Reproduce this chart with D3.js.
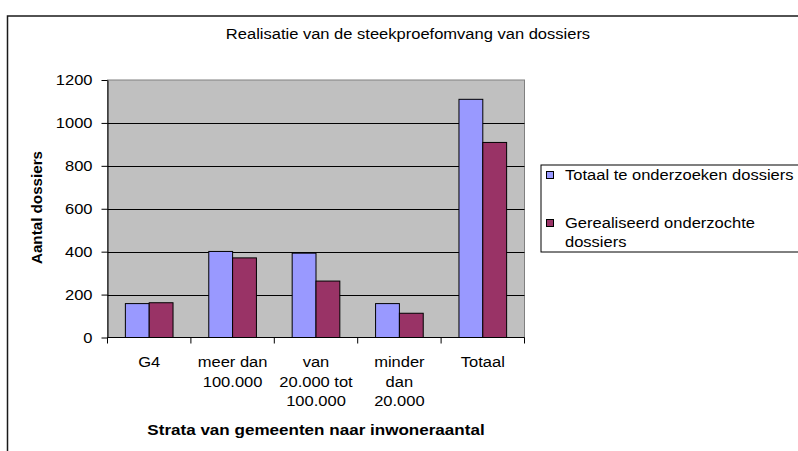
<!DOCTYPE html>
<html>
<head>
<meta charset="utf-8">
<script src="https://cdn.jsdelivr.net/npm/d3@7"></script>
<style>
  html, body { margin: 0; padding: 0; background: #fff; }
  svg { display: block; font-family: "Liberation Sans", Arial, sans-serif; }
</style>
</head>
<body>
<svg id="chart" width="798" height="451"></svg>
<script>
// ---- data ----
const categories = ["G4", "meer dan\n100.000", "van\n20.000 tot\n100.000", "minder\ndan\n20.000", "Totaal"];
const seriesNames = ["Totaal te onderzoeken dossiers", "Gerealiseerd onderzochte\ndossiers"];
const totaalValues = [158, 401, 393, 158, 1110];
const gerealiseerdValues = [162, 371, 263, 113, 909];
const seriesColors = ["#9999FF", "#993366"];
const yTicks = [0, 200, 400, 600, 800, 1000, 1200];
const chartTitle = "Realisatie van de steekproefomvang van dossiers";
const xTitle = "Strata van gemeenten naar inwoneraantal";
const yTitle = "Aantal dossiers";

const seriesValues = [totaalValues, gerealiseerdValues];

// ---- layout ----
const svg = d3.select("#chart");
const plot = { left: 107.5, right: 524.5, top: 80, bottom: 337.5 };
const SX = 1.065;      // slight horizontal text stretch of the original rendering
const FS = 15.5;

function stretch(sel, k) {
  sel.each(function () {
    const w = this.getComputedTextLength();
    this.setAttribute("textLength", w * k);
    this.setAttribute("lengthAdjust", "spacingAndGlyphs");
  });
}

// outer chart frame
svg.append("rect")
  .attr("x", 7.5).attr("y", 16)
  .attr("width", 820).attr("height", 470)
  .attr("fill", "#fff").attr("stroke", "#1a1a1a").attr("stroke-width", 1.5);

// scales
const x = d3.scaleBand().domain(d3.range(categories.length))
  .range([plot.left, plot.right]).paddingInner(0).paddingOuter(0);
const xs = d3.scaleBand().domain(d3.range(seriesNames.length))
  .range([0, x.bandwidth()]).paddingInner(0).paddingOuter(0.75);
const y = d3.scaleLinear().domain([0, 1200]).range([plot.bottom, plot.top]);

// plot background
svg.append("rect")
  .attr("x", plot.left).attr("y", plot.top)
  .attr("width", plot.right - plot.left).attr("height", plot.bottom - plot.top)
  .attr("fill", "#C0C0C0").attr("stroke", "#808080").attr("stroke-width", 1);

// gridlines
svg.append("g").selectAll("line")
  .data(yTicks.filter(t => t > 0 && t < 1200))
  .join("line")
  .attr("x1", plot.left).attr("x2", plot.right)
  .attr("y1", d => Math.round(y(d)) + 0.5).attr("y2", d => Math.round(y(d)) + 0.5)
  .attr("stroke", "#000").attr("stroke-width", 1);

// bars
const groups = svg.append("g").selectAll("g")
  .data(categories.map((c, i) => i))
  .join("g")
  .attr("transform", i => `translate(${x(i)},0)`);
groups.selectAll("rect")
  .data(i => seriesValues.map((vals, s) => ({ s, v: vals[i] })))
  .join("rect")
  .attr("x", d => xs(d.s))
  .attr("width", xs.bandwidth())
  .attr("y", d => y(d.v))
  .attr("height", d => y(0) - y(d.v))
  .attr("fill", d => seriesColors[d.s])
  .attr("stroke", "#000").attr("stroke-width", 1);

// y axis
const yAxis = d3.axisLeft(y).tickValues(yTicks).tickFormat(d3.format("d"))
  .tickSize(6).tickPadding(9).tickSizeOuter(0);
const gy = svg.append("g").attr("transform", `translate(${plot.left},0)`).call(yAxis);
gy.select(".domain").attr("stroke", "#000");
gy.selectAll(".tick line").attr("stroke", "#000");
gy.selectAll(".tick text")
  .attr("font-size", FS).attr("fill", "#000")
  .attr("font-family", '"Liberation Sans", Arial, sans-serif')
  .call(stretch, SX);

// x axis with ticks at category boundaries
const gx = svg.append("g").attr("transform", `translate(0,${plot.bottom})`);
gx.append("line").attr("x1", plot.left).attr("x2", plot.right)
  .attr("y1", 0).attr("y2", 0).attr("stroke", "#000");
gx.selectAll("line.tk")
  .data(d3.range(categories.length + 1))
  .join("line").attr("class", "tk")
  .attr("x1", i => i < categories.length ? x(i) : plot.right)
  .attr("x2", i => i < categories.length ? x(i) : plot.right)
  .attr("y1", 0).attr("y2", 6).attr("stroke", "#000");

// category labels (wrapped)
const lineY = [367.3, 386.7, 406];
categories.forEach((c, i) => {
  c.split("\n").forEach((ln, k) => {
    svg.append("text")
      .attr("x", x(i) + x.bandwidth() / 2)
      .attr("y", lineY[k])
      .attr("text-anchor", "middle")
      .attr("font-size", FS).attr("fill", "#000")
      .text(ln)
      .call(stretch, SX);
  });
});

// title
svg.append("text")
  .attr("x", 408).attr("y", 38.5)
  .attr("text-anchor", "middle")
  .attr("font-size", FS).attr("fill", "#000")
  .text(chartTitle).call(stretch, SX);

// x title
svg.append("text")
  .attr("x", (plot.left + plot.right) / 2).attr("y", 435)
  .attr("text-anchor", "middle")
  .attr("font-size", FS).attr("font-weight", "bold").attr("fill", "#000")
  .text(xTitle).call(stretch, 1.1);

// y title
svg.append("text")
  .attr("transform", "translate(41.5,207.5) rotate(-90)")
  .attr("text-anchor", "middle")
  .attr("font-size", 15.2).attr("font-weight", "bold").attr("fill", "#000")
  .text(yTitle);

// legend
const lg = svg.append("g");
lg.append("rect")
  .attr("x", 541).attr("y", 165).attr("width", 300).attr("height", 87)
  .attr("fill", "#fff").attr("stroke", "#000").attr("stroke-width", 1);
const legendRows = [{ sq: 171.5, lines: [179.8] }, { sq: 219.5, lines: [228.3, 246.7] }];
seriesNames.forEach((name, s) => {
  lg.append("rect")
    .attr("x", 546.5).attr("y", legendRows[s].sq)
    .attr("width", 7).attr("height", 7)
    .attr("fill", seriesColors[s]).attr("stroke", "#000").attr("stroke-width", 1);
  name.split("\n").forEach((ln, k) => {
    lg.append("text")
      .attr("x", 565).attr("y", legendRows[s].lines[k])
      .attr("font-size", FS).attr("fill", "#000")
      .text(ln).call(stretch, SX);
  });
});
</script>
</body>
</html>
